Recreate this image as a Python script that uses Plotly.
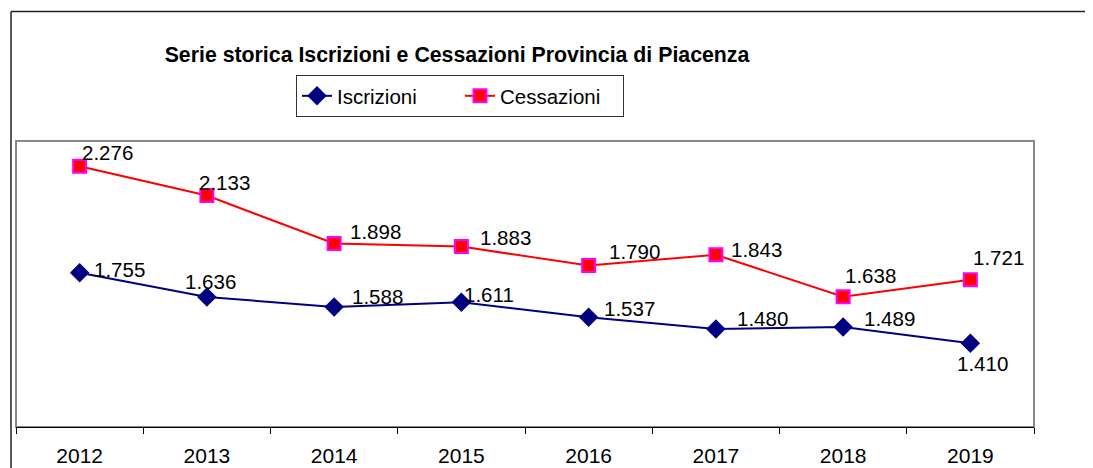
import plotly.graph_objects as go

years = ["2012", "2013", "2014", "2015", "2016", "2017", "2018", "2019"]
iscrizioni = [1755, 1636, 1588, 1611, 1537, 1480, 1489, 1410]
cessazioni = [2276, 2133, 1898, 1883, 1790, 1843, 1638, 1721]

# label offsets (pixels): left edge shift from marker, and vertical shift (up positive)
isc_dx = [12, -24, 16, 1, 13, 19, 19, -15]
isc_dy = [3, 16, 10, 8, 9, 10, 9, -20]
ces_dx = [0, -10, 14, 17, 18, 13, 0, 1]
ces_dy = [14, 13.5, 12.5, 9, 14, 5.5, 21.5, 22.5]


def fmt(v):
    return f"{v:,}".replace(",", ".")


FONT = "Liberation Sans, Arial, sans-serif"
LABEL_SIZE = 20.5

fig = go.Figure()
fig.add_trace(go.Scatter(
    x=years, y=iscrizioni, name="Iscrizioni", mode="lines+markers",
    line=dict(color="#000080", width=2),
    marker=dict(symbol="diamond", size=15, color="#000080"),
))
fig.add_trace(go.Scatter(
    x=years, y=cessazioni, name="Cessazioni", mode="lines+markers",
    line=dict(color="#FF0000", width=2),
    marker=dict(symbol="square", size=13, color="#FF0000",
                line=dict(color="#FF00FF", width=2)),
))

annotations = []
for series, dxs, dys in ((iscrizioni, isc_dx, isc_dy), (cessazioni, ces_dx, ces_dy)):
    for i, (v, dx, dy) in enumerate(zip(series, dxs, dys)):
        annotations.append(dict(x=i, y=v, xref="x", yref="y", text=fmt(v), showarrow=False,
                                xanchor="left", yanchor="middle", xshift=dx, yshift=dy,
                                font=dict(size=LABEL_SIZE, family=FONT, color="black")))

W, H = 1085, 460
OFF = 8  # page body margin
L, R, T, B = 16 - OFF, 1034 - OFF, 141 - OFF, 427 - OFF


def px_x(p):
    return (p - OFF - L) / (R - L)


def px_y(p):
    return (B - (p - OFF)) / (B - T)


fig.update_layout(
    width=W, height=H,
    margin=dict(l=L, r=W - R, t=T, b=H - B, autoexpand=False),
    paper_bgcolor="white", plot_bgcolor="white",
    font=dict(family=FONT, color="black", size=20),
    showlegend=True,
    annotations=annotations,
    title=dict(text="<b>Serie storica Iscrizioni e Cessazioni Provincia di Piacenza</b>",
               x=px_x(457), xref="paper", xanchor="center",
               y=1 - (55 - OFF) / H, yref="container", yanchor="middle",
               font=dict(size=21.3, family=FONT, color="black")),
    legend=dict(orientation="h", x=px_x(460), y=px_y(75), xanchor="center", yanchor="top",
                bordercolor="#333333", borderwidth=1, bgcolor="white",
                entrywidth=118, entrywidthmode="pixels",
                font=dict(size=20.5, family=FONT, color="black")),
    xaxis=dict(type="category", categoryorder="array", categoryarray=years,
               range=[-0.5, len(years) - 0.5], autorange=False,
               showgrid=False, showline=True, linecolor="black", linewidth=1,
               ticks="outside", tickson="boundaries", ticklen=6, tickcolor="black",
               ticklabelstandoff=10, tickangle=0, automargin=False,
               tickfont=dict(size=21, family=FONT, color="black"), zeroline=False),
    yaxis=dict(range=[1000, 2400], autorange=False, visible=False, showgrid=False,
               zeroline=False, automargin=False),
    shapes=[
        dict(type="rect", xref="paper", yref="paper", x0=0, x1=1, y0=0, y1=1,
             line=dict(color="#888888", width=2), layer="below"),
        dict(type="line", xref="paper", yref="paper", x0=px_x(11), x1=px_x(1100),
             y0=px_y(11.5), y1=px_y(11.5), line=dict(color="#222222", width=1.5),
             layer="below"),
        dict(type="line", xref="paper", yref="paper", x0=px_x(11), x1=px_x(11),
             y0=px_y(11.5), y1=px_y(480), line=dict(color="#222222", width=1.5),
             layer="below"),
    ],
)

fig.write_html("out.html")
